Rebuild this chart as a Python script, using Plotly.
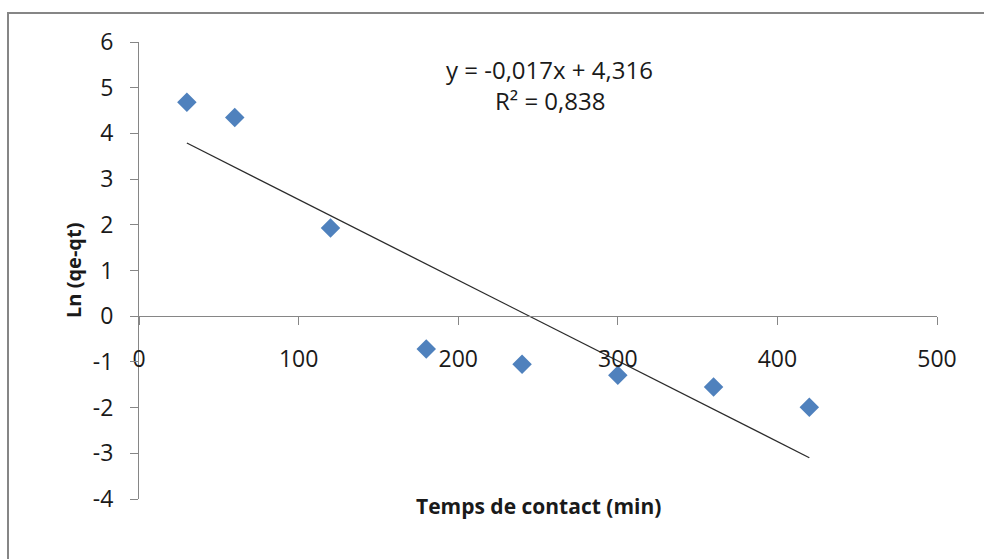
import numpy as np
import plotly.graph_objects as go

# Data
time_min = [30, 60, 120, 180, 240, 300, 360, 420]
ln_qe_qt = [4.68, 4.35, 1.93, -0.72, -1.05, -1.29, -1.55, -1.99]

x_ticks = [0, 100, 200, 300, 400, 500]
x_ticktext = ["0", "100", "200", "300", "400", "500"]
y_ticks = [-4, -3, -2, -1, 0, 1, 2, 3, 4, 5, 6]
y_ticktext = ["-4", "-3", "-2", "-1", "0", "1", "2", "3", "4", "5", "6"]

eq_text = "y = -0,017x + 4,316"
r2_text = "R² = 0,838"
x_title = "Temps de contact (min)"
y_title = "Ln (qe-qt)"

# Linear trendline (least squares), drawn over the data range
slope, intercept = np.polyfit(time_min, ln_qe_qt, 1)
tx = [min(time_min), max(time_min)]
ty = [slope * v + intercept for v in tx]

FONT = "Open Sans, Noto Sans, sans-serif"
AX = "#868686"

fig = go.Figure()
fig.add_trace(go.Scatter(x=tx, y=ty, mode="lines",
                         line=dict(color="#2b2b2b", width=1.3),
                         hoverinfo="skip", showlegend=False))
fig.add_trace(go.Scatter(x=time_min, y=ln_qe_qt, mode="markers",
                         marker=dict(symbol="diamond", size=15, color="#4F81BD",
                                     line=dict(width=0)),
                         showlegend=False))

fig.update_layout(
    width=984, height=559,
    margin=dict(l=139, r=47, t=42, b=60),
    paper_bgcolor="white", plot_bgcolor="white",
    font=dict(family=FONT, size=23, color="#1a1a1a"),
    xaxis=dict(range=[0, 500], tickvals=x_ticks, ticktext=x_ticktext,
               showgrid=False, zeroline=False, showline=True,
               linecolor=AX, linewidth=1, ticks="outside", ticklen=8,
               tickcolor=AX, tickwidth=1, anchor="free", position=0.4,
               ticklabelstandoff=14, tickfont=dict(size=23)),
    yaxis=dict(range=[-4, 6], tickvals=y_ticks, ticktext=y_ticktext,
               domain=[0, 1],
               showgrid=False, zeroline=False, showline=True,
               linecolor=AX, linewidth=1, ticks="outside", ticklen=8,
               tickcolor=AX, tickwidth=1, ticklabelstandoff=12,
               tickfont=dict(size=23)),
    shapes=[dict(type="rect", xref="paper", yref="paper",
                 x0=(8 - 139) / 798, x1=1.2,
                 y0=-0.3, y1=(499 - 13) / 457,
                 line=dict(color=AX, width=2), fillcolor="rgba(0,0,0,0)",
                 layer="below")],
    annotations=[
        dict(x=257.5, y=5.40, xref="x", yref="y", text=eq_text,
             showarrow=False, font=dict(size=24)),
        dict(x=257.5, y=4.73, xref="x", yref="y", text=r2_text,
             showarrow=False, font=dict(size=24)),
        dict(x=0.5, y=(499 - 522) / 457, xref="paper", yref="paper",
             text="<b>" + x_title + "</b>", showarrow=False,
             font=dict(size=21)),
        dict(x=(58 - 139) / 798, y=0.5, xref="paper", yref="paper",
             text="<b>" + y_title + "</b>", showarrow=False, textangle=-90,
             font=dict(size=20)),
    ],
)

fig.write_html("out.html")
